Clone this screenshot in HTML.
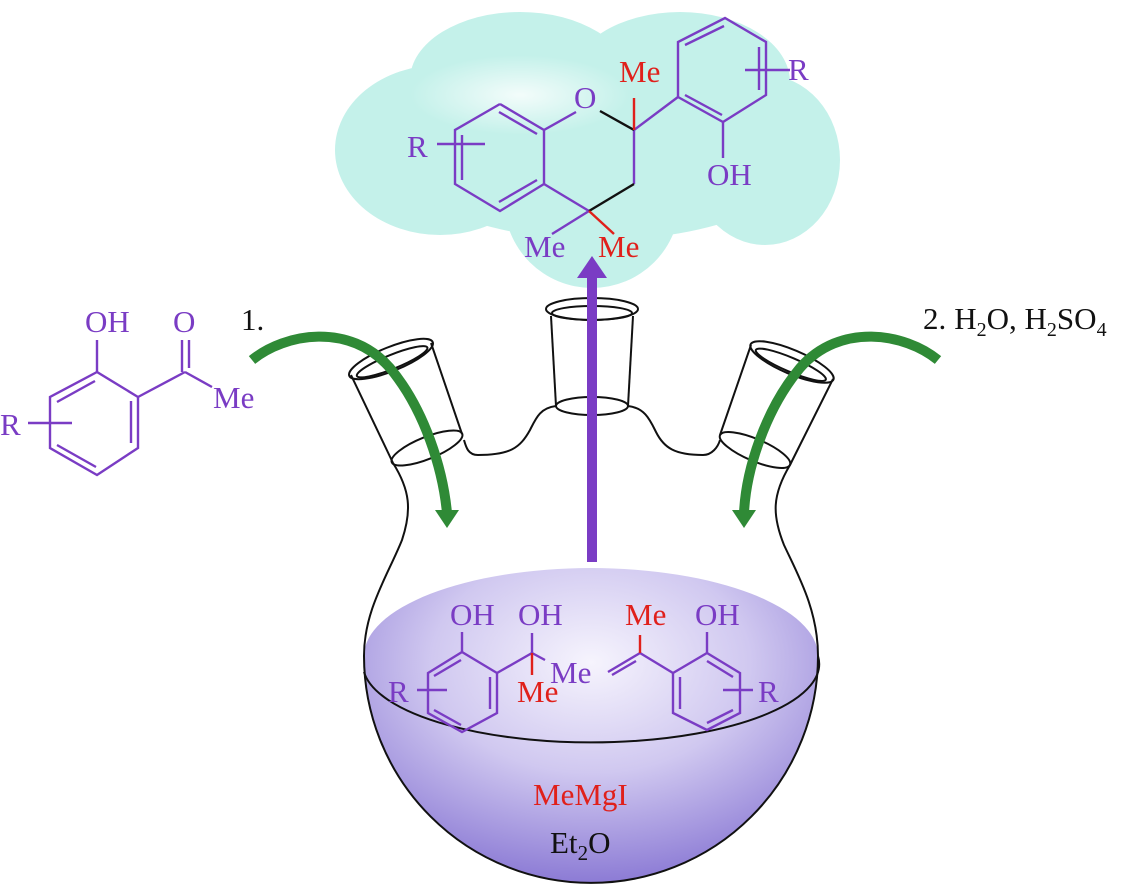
<!DOCTYPE html>
<html><head><meta charset="utf-8"><style>
html,body{margin:0;padding:0;background:#fff;}
svg{display:block;}
text{font-family:"Liberation Serif",serif;font-size:31px;}
.p{fill:#7a3cc4;} .r{fill:#e0201b;} .k{fill:#111;}
</style></head><body>
<svg width="1140" height="886" viewBox="0 0 1140 886" xmlns="http://www.w3.org/2000/svg">
<defs>
<radialGradient id="liq" cx="0.5" cy="0.3" r="0.7">
<stop offset="0" stop-color="#f6f4fd"/><stop offset="0.5" stop-color="#d0c8f0"/><stop offset="1" stop-color="#8c7bd5"/>
</radialGradient>
<radialGradient id="hl" cx="0.5" cy="0.5" r="0.5">
<stop offset="0" stop-color="#ffffff" stop-opacity="0.8"/><stop offset="1" stop-color="#ffffff" stop-opacity="0"/>
</radialGradient>
</defs>
<!-- cloud -->
<g fill="#c4f1ea">
<ellipse cx="440" cy="150" rx="105" ry="85"/>
<ellipse cx="520" cy="80" rx="110" ry="68"/>
<ellipse cx="680" cy="82" rx="110" ry="70"/>
<ellipse cx="765" cy="160" rx="75" ry="85"/>
<circle cx="592" cy="200" r="88"/>
<ellipse cx="600" cy="150" rx="210" ry="90"/>
</g>
<ellipse cx="520" cy="95" rx="110" ry="40" fill="url(#hl)"/>
<!-- chromane -->
<g stroke="#7a3cc4" stroke-width="2.4" fill="none">
<polyline points="500,104 544,130 544,184 500,211 455,184 455,130 500,104"/>
<line x1="499" y1="112" x2="537" y2="134"/>
<line x1="462" y1="135" x2="462" y2="180"/>
<line x1="537" y1="180" x2="499" y2="202"/>
<line x1="437" y1="144" x2="485" y2="144"/>
<line x1="544" y1="130" x2="576" y2="112"/>
<line x1="544" y1="184" x2="589" y2="211"/>
<line x1="634" y1="130" x2="634" y2="184"/>
<line x1="634" y1="130" x2="678" y2="97"/>
<line x1="589" y1="211" x2="552" y2="234"/>
<polyline points="678,97 678,42 725,18 766,42 766,95 723,122 678,97"/>
<line x1="685" y1="45" x2="724" y2="26"/>
<line x1="759" y1="47" x2="759" y2="90"/>
<line x1="685" y1="95" x2="722" y2="115"/>
<line x1="745" y1="70" x2="790" y2="70"/>
<line x1="723" y1="122" x2="723" y2="158"/>
</g>
<g stroke="#111" stroke-width="2.4"><line x1="600" y1="111" x2="634" y2="130"/><line x1="634" y1="184" x2="589" y2="211"/></g>
<g stroke="#e0201b" stroke-width="2.4"><line x1="634" y1="130" x2="634" y2="98"/><line x1="589" y1="211" x2="614" y2="234"/></g>
<text class="p" x="407" y="157">R</text>
<text class="p" x="574" y="108">O</text>
<text class="r" x="619" y="82">Me</text>
<text class="p" x="788" y="80">R</text>
<text class="p" x="707" y="185">OH</text>
<text class="p" x="524" y="257">Me</text>
<text class="r" x="598" y="257">Me</text>
<!-- flask -->
<path d="M364,656 A227,88 0 0 1 818,656 A227,227 0 0 1 364,656 Z" fill="url(#liq)"/>
<g stroke="#111" stroke-width="2" fill="none">
<path d="M364,672 A227,78 0 0 0 818,656"/>
<path d="M393,463 C410,490 412,510 402,540 C388,575 364,610 364,656 A227,227 0 0 0 818,656 C818,610 798,575 784,545 C772,515 772,495 790,465"/>
<ellipse cx="592" cy="309" rx="46" ry="11"/>
<ellipse cx="592" cy="313" rx="40" ry="7"/>
<line x1="551" y1="316" x2="556" y2="406"/>
<line x1="633" y1="316" x2="628" y2="406"/>
<ellipse cx="592" cy="406" rx="36" ry="9"/>
<path d="M556,406 C540,408 536,418 530,430 C520,448 510,455 478,455 C468,455 466,447 464,440"/>
<path d="M628,406 C645,408 650,420 656,432 C664,448 675,455 703,455 C712,455 718,447 720,440"/>
<g transform="rotate(-22 391 359)"><ellipse cx="391" cy="359" rx="45" ry="12"/><ellipse cx="391" cy="362" rx="38" ry="7"/></g>
<g transform="rotate(-22 427 448)"><ellipse cx="427" cy="448" rx="38" ry="11"/></g>
<line x1="351" y1="375" x2="393" y2="463"/>
<line x1="431" y1="343" x2="462" y2="434"/>
<g transform="rotate(23 792 362)"><ellipse cx="792" cy="362" rx="45" ry="12"/><ellipse cx="792" cy="365" rx="38" ry="7"/></g>
<g transform="rotate(23 755 450)"><ellipse cx="755" cy="450" rx="38" ry="11"/></g>
<line x1="833" y1="379" x2="790" y2="465"/>
<line x1="751" y1="345" x2="720" y2="435"/>
</g>
<!-- purple arrow -->
<rect x="587" y="276" width="10" height="286" fill="#7a3cc4"/>
<polygon points="577,278 607,278 592,256" fill="#7a3cc4"/>
<!-- green arrows -->
<g fill="none" stroke="#2f8a36" stroke-width="10">
<path d="M252,360 C285,333 350,322 390,368 C425,410 443,470 447,513"/>
<path d="M938,360 C905,333 840,322 800,368 C765,410 746,470 744,513"/>
</g>
<polygon points="435,510 459,510 447,528" fill="#2f8a36"/>
<polygon points="732,510 756,510 744,528" fill="#2f8a36"/>
<!-- left reactant -->
<g stroke="#7a3cc4" stroke-width="2.4" fill="none">
<polyline points="97,372 138,397 138,448 97,475 50,448 50,397 97,372"/>
<line x1="95" y1="381" x2="57" y2="402"/>
<line x1="131" y1="401" x2="131" y2="443"/>
<line x1="57" y1="445" x2="96" y2="467"/>
<line x1="28" y1="423" x2="72" y2="423"/>
<line x1="97" y1="372" x2="97" y2="340"/>
<line x1="138" y1="397" x2="185" y2="372"/>
<line x1="185" y1="372" x2="212" y2="387"/>
<line x1="182" y1="340" x2="182" y2="372"/>
<line x1="189" y1="340" x2="189" y2="368"/>
</g>
<text class="p" x="85" y="332">OH</text>
<text class="p" x="173" y="332">O</text>
<text class="p" x="213" y="408">Me</text>
<text class="p" x="0" y="435">R</text>
<text class="k" x="241" y="330">1.</text>
<text class="k" x="923" y="329">2.<tspan dx="8">H</tspan><tspan font-size="20" dy="7">2</tspan><tspan dy="-7">O, H</tspan><tspan font-size="20" dy="7">2</tspan><tspan dy="-7">SO</tspan><tspan font-size="20" dy="7">4</tspan></text>
<!-- solution molecules -->
<g stroke="#7a3cc4" stroke-width="2.4" fill="none">
<polyline points="462,652 497,673 497,713 462,732 428,713 428,673 462,652"/>
<line x1="461" y1="660" x2="434" y2="676"/>
<line x1="490" y1="677" x2="490" y2="709"/>
<line x1="434" y1="710" x2="461" y2="725"/>
<line x1="417" y1="690" x2="447" y2="690"/>
<line x1="462" y1="652" x2="462" y2="632"/>
<line x1="497" y1="673" x2="532" y2="653"/>
<line x1="532" y1="653" x2="532" y2="633"/>
<line x1="532" y1="653" x2="545" y2="660"/>
<polyline points="673,673 707,653 740,673 740,713 707,730 673,713 673,673"/>
<line x1="707" y1="661" x2="733" y2="677"/>
<line x1="680" y1="677" x2="680" y2="709"/>
<line x1="733" y1="710" x2="707" y2="723"/>
<line x1="723" y1="690" x2="753" y2="690"/>
<line x1="707" y1="653" x2="707" y2="632"/>
<line x1="640" y1="653" x2="673" y2="673"/>
<line x1="640" y1="653" x2="608" y2="672"/>
<line x1="636" y1="661" x2="612" y2="675"/>
</g>
<g stroke="#e0201b" stroke-width="2.4"><line x1="532" y1="653" x2="532" y2="675"/><line x1="640" y1="653" x2="640" y2="635"/></g>
<text class="p" x="450" y="625">OH</text>
<text class="p" x="518" y="625">OH</text>
<text class="r" x="517" y="702">Me</text>
<text class="p" x="550" y="683">Me</text>
<text class="r" x="625" y="625">Me</text>
<text class="p" x="695" y="625">OH</text>
<text class="p" x="388" y="702">R</text>
<text class="p" x="758" y="702">R</text>
<text class="r" x="533" y="805" font-size="33">MeMgI</text>
<text class="k" x="550" y="853" font-size="33">Et<tspan font-size="21" dy="7">2</tspan><tspan dy="-7">O</tspan></text>
</svg>
</body></html>
